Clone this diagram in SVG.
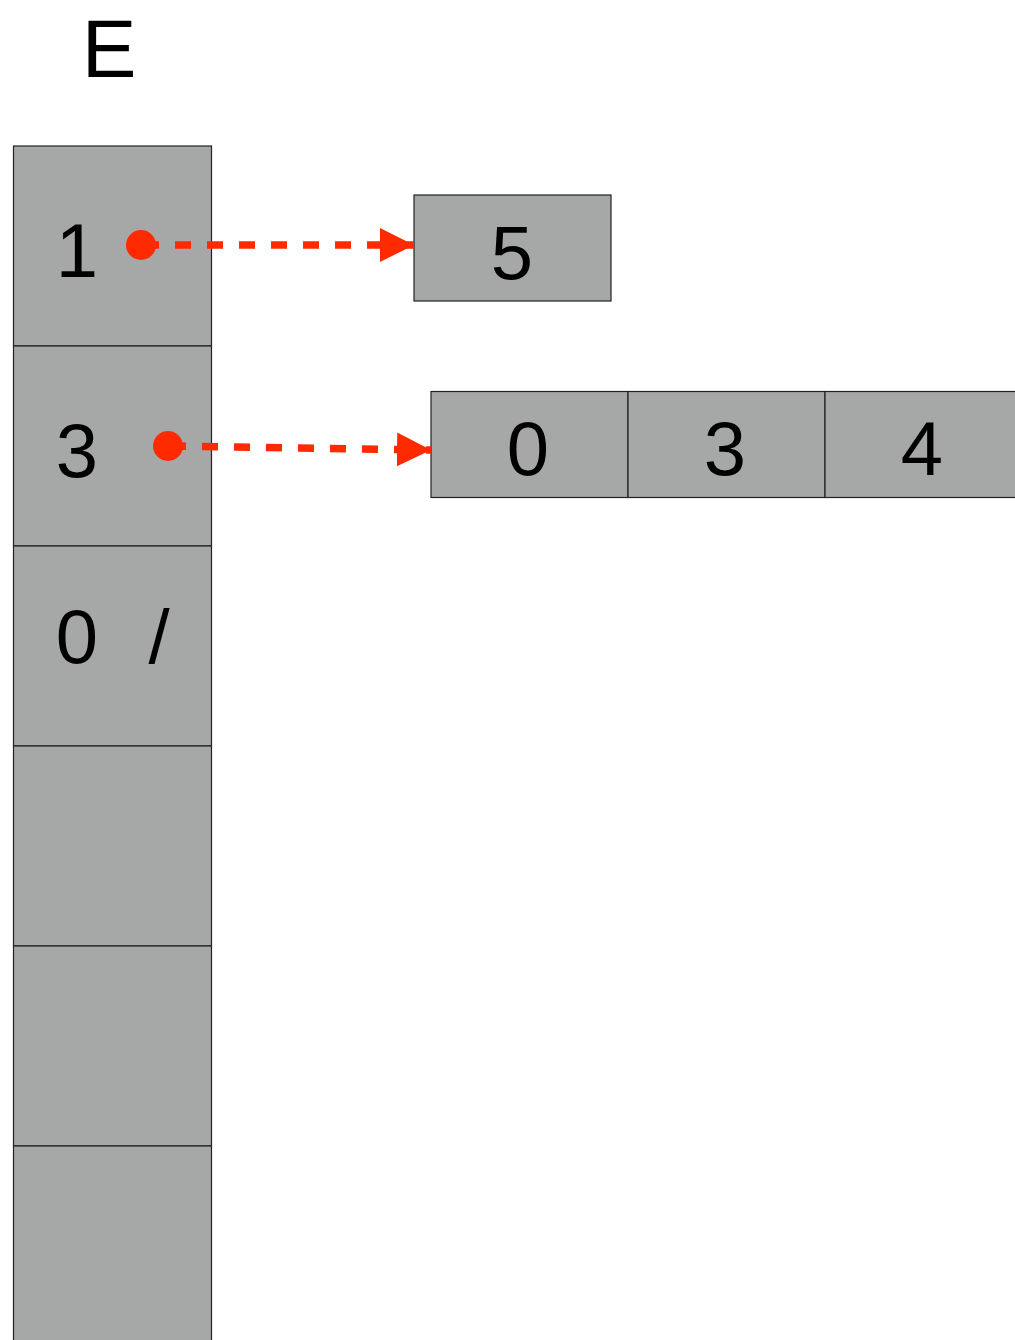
<svg xmlns="http://www.w3.org/2000/svg" width="1015" height="1340" viewBox="0 0 1015 1340">
<style>
.cell{fill:#a5a8a6;stroke:#222;stroke-width:1.2}
.t{font-family:"Liberation Sans",Arial,sans-serif;font-size:76px;fill:#000}
.conn{stroke:#ff2a00;stroke-width:7.5;stroke-dasharray:16 16;fill:none}
.dot{fill:#ff2a00}
</style>
<defs>
<marker id="arr" markerUnits="userSpaceOnUse" markerWidth="36" markerHeight="36" refX="34" refY="18" orient="auto">
<path d="M0,1 L34,18 L0,35 Z" fill="#ff2a00"/>
</marker>
</defs>
<rect width="1015" height="1340" fill="#fff"/>
<text class="t" x="109" y="77" text-anchor="middle" style="font-size:82px">E</text>
<g id="E">
<g id="E0"><rect class="cell" x="13.5" y="146" width="198" height="200"/><text class="t" x="77" y="277" text-anchor="middle">1</text></g>
<g id="E1"><rect class="cell" x="13.5" y="346" width="198" height="200"/><text class="t" x="77" y="477" text-anchor="middle">3</text></g>
<g id="E2"><rect class="cell" x="13.5" y="546" width="198" height="200"/><text class="t" x="77" y="663" text-anchor="middle">0</text><text class="t" x="159" y="663" text-anchor="middle">/</text></g>
<g id="E3"><rect class="cell" x="13.5" y="746" width="198" height="200"/></g>
<g id="E4"><rect class="cell" x="13.5" y="946" width="198" height="200"/></g>
<g id="E5"><rect class="cell" x="13.5" y="1146" width="198" height="200"/></g>
</g>
<g id="B5"><rect class="cell" x="414" y="195" width="197" height="106"/><text class="t" x="512" y="279" text-anchor="middle">5</text></g>
<g id="L">
<g id="L0"><rect class="cell" x="431" y="391.5" width="197" height="106"/><text class="t" x="528" y="475" text-anchor="middle">0</text></g>
<g id="L1"><rect class="cell" x="628" y="391.5" width="197" height="106"/><text class="t" x="725" y="475" text-anchor="middle">3</text></g>
<g id="L2"><rect class="cell" x="825" y="391.5" width="197" height="106"/><text class="t" x="922" y="475" text-anchor="middle">4</text></g>
</g>
<g id="connectors">
<circle class="dot" cx="141" cy="245" r="15"/>
<line class="conn" x1="141" y1="245" x2="414" y2="245" stroke-dashoffset="-2" marker-end="url(#arr)"/>
<circle class="dot" cx="168" cy="446" r="15"/>
<line class="conn" x1="168" y1="446" x2="431" y2="450" stroke-dashoffset="-2" marker-end="url(#arr)"/>
</g>
</svg>
